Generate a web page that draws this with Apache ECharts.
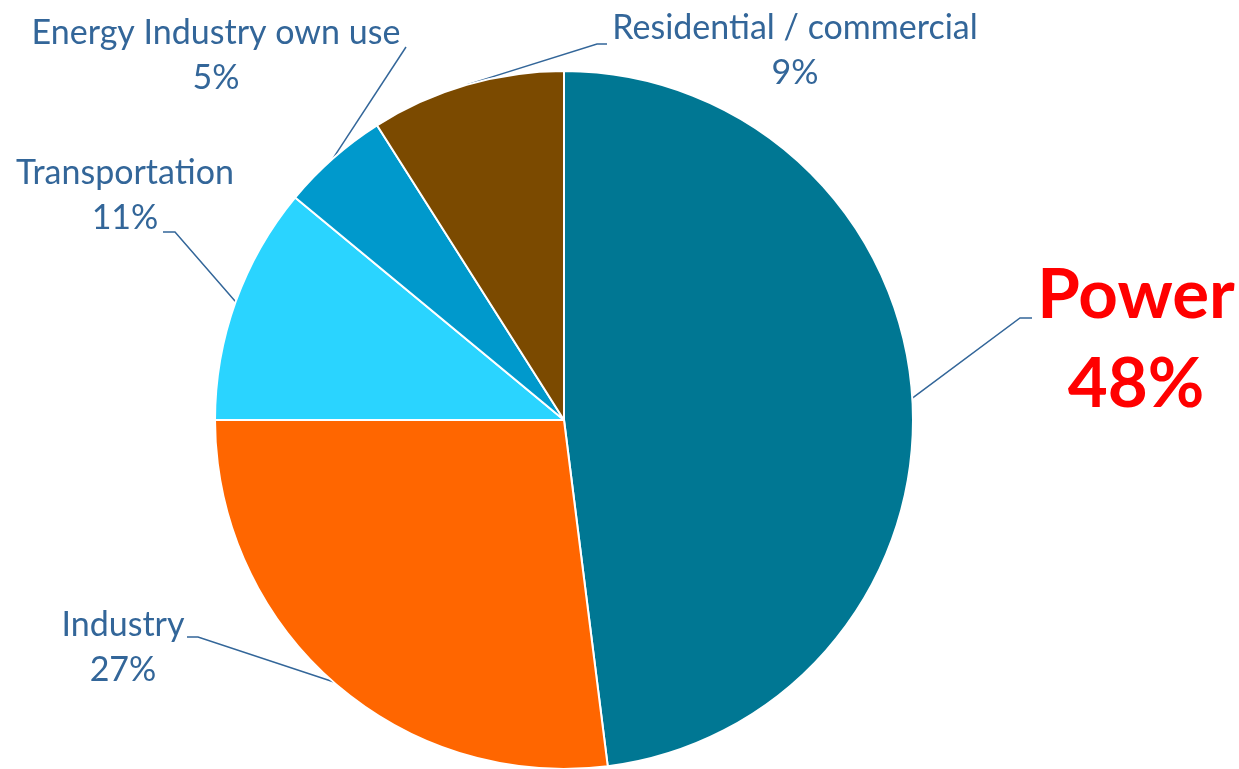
<!DOCTYPE html>
<html>
<head>
<meta charset="utf-8">
<script src="https://cdn.jsdelivr.net/npm/echarts@6/dist/echarts.min.js"></script>
<style>html,body{margin:0;padding:0;background:#fff;}#c{width:1239px;height:769px;}</style>
</head>
<body>
<div id="c"></div>
<script>
const categories = ['Power', 'Industry', 'Transportation', 'Energy Industry own use', 'Residential / commercial'];
const values = [48, 27, 11, 5, 9];
const colors = ['#007793', '#FF6600', '#2AD4FF', '#0099CC', '#7B4A00'];

// label anchor positions and leader elbows (layout only)
const labelPos = [[1136, 340], [123, 648], [125, 196], [216, 56], [795, 51]];
const elbows = [
  [[1020, 318], [1032, 318]],
  [[198, 637], [187, 637]],
  [[175, 232], [163, 232]],
  [[406, 47], [406, 47]],
  [[597, 44], [607, 44]]
];

const chart = echarts.init(document.getElementById('c'), null, {renderer: 'canvas'});
const data = categories.map((n, i) => {
  const d = {name: n, value: values[i], itemStyle: {color: colors[i]}};
  if (i === 0) {
    d.label = {color: '#FF0000', fontSize: 69, fontWeight: 'bold', lineHeight: 89};
  }
  return d;
});
chart.setOption({
  animation: false,
  series: [{
    type: 'pie',
    center: [564, 420],
    radius: 349,
    startAngle: 90,
    clockwise: true,
    avoidLabelOverlap: false,
    itemStyle: {borderColor: '#fff', borderWidth: 2},
    label: {
      show: true,
      position: 'outside',
      formatter: '{b}\n{c}%',
      fontFamily: 'Lato',
      fontSize: 34,
      lineHeight: 45,
      color: '#336699',
      align: 'center'
    },
    labelLine: {show: true, lineStyle: {color: '#336699', width: 1.5}},
    labelLayout: function (p) {
      const i = p.dataIndex;
      const start = p.labelLinePoints ? p.labelLinePoints[0] : null;
      const out = {x: labelPos[i][0], y: labelPos[i][1], align: 'center', verticalAlign: 'middle'};
      if (start) out.labelLinePoints = [start, elbows[i][0], elbows[i][1]];
      return out;
    },
    data: data
  }]
});
</script>
</body>
</html>
